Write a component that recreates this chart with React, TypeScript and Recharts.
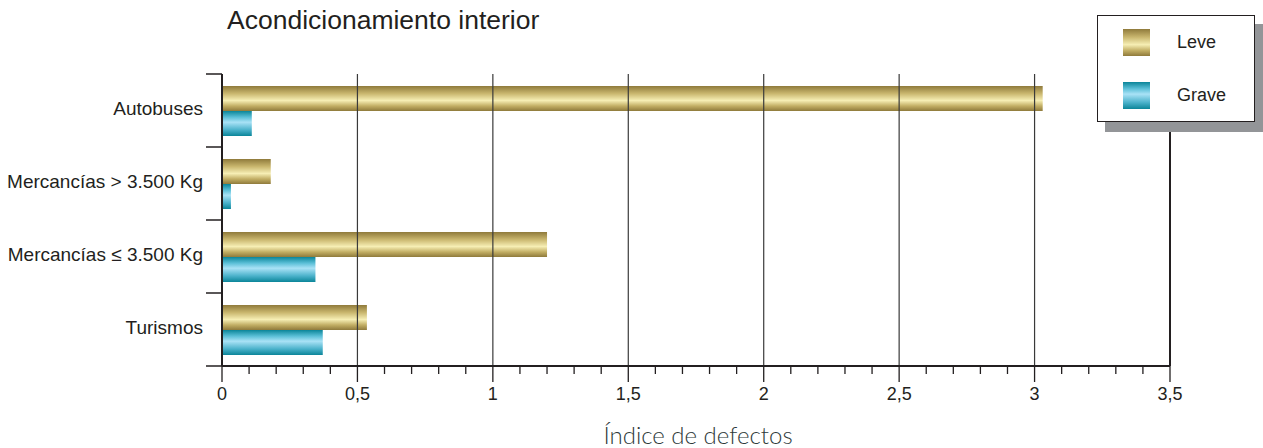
import { Bar, BarChart, ReferenceLine, XAxis, YAxis } from "recharts"

const categories = [
  "Autobuses",
  "Mercancías > 3.500 Kg",
  "Mercancías ≤ 3.500 Kg",
  "Turismos",
]
const leve = [3.03, 0.18, 1.2, 0.535]
const grave = [0.11, 0.033, 0.345, 0.372]
const seriesNames = ["Leve", "Grave"]
const majorTicks = [0, 0.5, 1, 1.5, 2, 2.5, 3, 3.5]
const allTicks = Array.from({ length: 36 }, (_, i) => i / 10)

const data = categories.map((name, i) => ({
  name,
  leve: leve[i],
  grave: grave[i],
}))

const FONT = '"Liberation Sans", Arial, Helvetica, sans-serif'
const INK = "#231f20"
const BAND = 73

function fmt(v: number) {
  return String(v).replace(".", ",")
}

function XTick(props: any) {
  const { x, y, payload } = props
  const v = payload.value as number
  const major = majorTicks.some((t) => Math.abs(t - v) < 1e-9)
  return (
    <g>
      <line
        x1={x}
        x2={x}
        y1={y - 8}
        y2={y + (major ? 8 : 0)}
        stroke={INK}
        strokeWidth={1.3}
      />
      {major && (
        <text
          x={x}
          y={y + 26}
          textAnchor="middle"
          fontSize={18}
          fontFamily={FONT}
          fill={INK}
        >
          {fmt(v)}
        </text>
      )}
    </g>
  )
}

function YTick(props: any) {
  const { y, payload, index } = props
  return (
    <g>
      {index === 0 && (
        <line x1={206} x2={222} y1={y - BAND / 2} y2={y - BAND / 2} stroke={INK} strokeWidth={1.5} />
      )}
      <line x1={206} x2={222} y1={y + BAND / 2} y2={y + BAND / 2} stroke={INK} strokeWidth={1.5} />
      <text
        x={203}
        y={y - 2}
        textAnchor="end"
        dominantBaseline="central"
        fontSize={19}
        fontFamily={FONT}
        fill={INK}
      >
        {payload.value}
      </text>
    </g>
  )
}

function Swatch({ kind }: { kind: "gold" | "blue" }) {
  const bg =
    kind === "gold"
      ? "linear-gradient(to bottom, #8f7a3b 0%, #c9b66e 30%, #f6eeb4 58%, #c2ae64 80%, #8f7a3b 100%)"
      : "linear-gradient(to bottom, #0b8599 0%, #5cc0d8 25%, #a9e2f6 45%, #4db3cc 75%, #0b8599 100%)"
  return <div style={{ width: 27, height: 27, background: bg }} />
}

export default function App() {
  return (
    <div style={{ position: "absolute", left: 0, top: 0, width: 1263, height: 448, background: "#fff", overflow: "hidden" }}>
      <div
        style={{
          position: "absolute",
          left: 227,
          top: 5,
          fontFamily: FONT,
          fontSize: 26.5,
          color: INK,
          whiteSpace: "nowrap",
        }}
      >
        Acondicionamiento interior
      </div>
      <BarChart
        width={1263}
        height={448}
        data={data}
        layout="vertical"
        margin={{ top: 74, right: 93, left: 0, bottom: 0 }}
        barGap={0}
        barSize={25}
      >
        <defs>
          <linearGradient id="gold" x1="0" y1="0" x2="0" y2="1">
            <stop offset="0%" stopColor="#8f7a3b" />
            <stop offset="30%" stopColor="#c9b66e" />
            <stop offset="58%" stopColor="#f6eeb4" />
            <stop offset="80%" stopColor="#c2ae64" />
            <stop offset="100%" stopColor="#8f7a3b" />
          </linearGradient>
          <linearGradient id="blue" x1="0" y1="0" x2="0" y2="1">
            <stop offset="0%" stopColor="#0b8599" />
            <stop offset="25%" stopColor="#5cc0d8" />
            <stop offset="45%" stopColor="#a9e2f6" />
            <stop offset="75%" stopColor="#4db3cc" />
            <stop offset="100%" stopColor="#0b8599" />
          </linearGradient>
        </defs>
        <XAxis
          type="number"
          domain={[0, 3.5]}
          ticks={allTicks}
          interval={0}
          height={82}
          tickLine={false}
          axisLine={{ stroke: INK, strokeWidth: 2 }}
          tick={<XTick />}
          allowDataOverflow
        />
        <XAxis
          xAxisId="top"
          orientation="top"
          type="number"
          domain={[0, 3.5]}
          height={0}
          tick={false}
          tickLine={false}
          axisLine={{ stroke: INK, strokeWidth: 1.5 }}
        />
        <YAxis
          type="category"
          dataKey="name"
          width={222}
          tickLine={false}
          axisLine={{ stroke: INK, strokeWidth: 2 }}
          tick={<YTick />}
          interval={0}
        />
        {majorTicks.slice(1).map((t) => (
          <ReferenceLine
            key={t}
            x={t}
            stroke={t === 3.5 ? INK : "#3a3a3a"}
            strokeWidth={t === 3.5 ? 2 : 1.2}
          />
        ))}
        <Bar dataKey="leve" name={seriesNames[0]} fill="url(#gold)" isAnimationActive={false} />
        <Bar dataKey="grave" name={seriesNames[1]} fill="url(#blue)" isAnimationActive={false} />
      </BarChart>
      <div
        style={{
          position: "absolute",
          left: 1105,
          top: 24,
          width: 158,
          height: 108,
          background: "#939598",
        }}
      />
      <div
        style={{
          position: "absolute",
          left: 1097,
          top: 15,
          width: 156,
          height: 105,
          background: "#fff",
          border: `1.5px solid ${INK}`,
          fontFamily: FONT,
          fontSize: 18,
          color: INK,
        }}
      >
        {seriesNames.map((n, i) => (
          <div
            key={n}
            style={{
              position: "absolute",
              left: 25,
              top: 13 + i * 53,
              display: "flex",
              alignItems: "center",
            }}
          >
            <Swatch kind={i === 0 ? "gold" : "blue"} />
            <span style={{ marginLeft: 27 }}>{n}</span>
          </div>
        ))}
      </div>
      <div
        style={{
          position: "absolute",
          left: 0,
          width: 1396,
          top: 420,
          textAlign: "center",
          fontFamily: "Lato, sans-serif",
          fontWeight: 300,
          fontSize: 24,
          color: "#2e3a3a",
          whiteSpace: "nowrap",
        }}
      >
        Índice de defectos
      </div>
    </div>
  )
}
